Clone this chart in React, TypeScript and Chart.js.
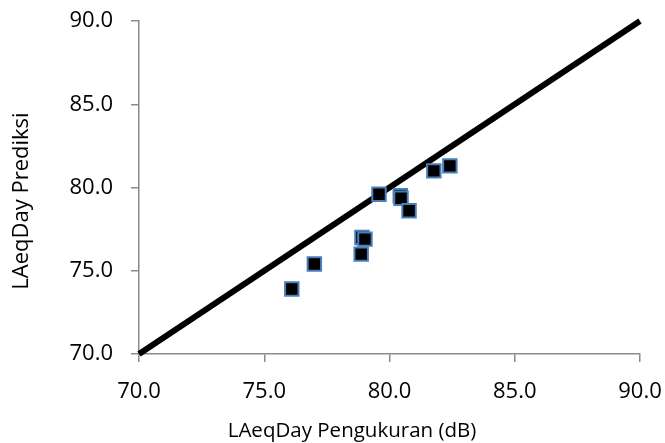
import React, { useEffect, useRef } from "react";
import { Chart, registerables } from "chart.js";

Chart.register(...registerables);

const measured: number[] = [76.1, 77.0, 78.87, 78.9, 79.02, 79.58, 80.43, 80.46, 80.78, 81.77, 82.41];
const predicted: number[] = [73.9, 75.4, 76.0, 77.0, 76.9, 79.6, 79.5, 79.35, 78.6, 81.0, 81.3];
const refLineX: number[] = [70, 90];
const refLineY: number[] = [70, 90];
const axisMin = 70;
const axisMax = 90;
const axisStep = 5;
const xTitle = "LAeqDay Pengukuran (dB)";
const yTitle = "LAeqDay Prediksi";

const FONT = "'Open Sans', sans-serif";

const titlePlugin = {
  id: "customTitles",
  afterDraw(chart: any) {
    const { ctx, chartArea } = chart;
    ctx.save();
    ctx.fillStyle = "#000";
    ctx.textAlign = "center";
    ctx.textBaseline = "middle";
    ctx.font = `20.5px ${FONT}`;
    ctx.fillText(xTitle, chartArea.left + 213, chartArea.bottom + 77);
    ctx.font = `22px ${FONT}`;
    ctx.translate(chartArea.left - 117, chartArea.top + 180);
    ctx.rotate(-Math.PI / 2);
    ctx.fillText(yTitle, 0, 0);
    ctx.restore();
  },
};

export default function App() {
  const ref = useRef<HTMLCanvasElement>(null);
  useEffect(() => {
    if (!ref.current) return;
    const axisColor = "#8a8a8a";
    const chart = new Chart(ref.current, {
      type: "scatter",
      data: {
        datasets: [
          {
            type: "scatter",
            label: "data",
            data: measured.map((x, i) => ({ x, y: predicted[i] })),
            pointStyle: "rect",
            pointRadius: 9.5,
            pointHoverRadius: 9.5,
            backgroundColor: "#000000",
            borderColor: "#4a7ebb",
            borderWidth: 2,
            order: 0,
          },
          {
            type: "line",
            label: "1:1",
            data: refLineX.map((x, i) => ({ x, y: refLineY[i] })),
            borderColor: "#000000",
            borderWidth: 6,
            pointRadius: 0,
            showLine: true,
            clip: false as any,
            order: 1,
          } as any,
        ],
      },
      options: {
        animation: false,
        responsive: false,
        layout: { padding: { left: 0, top: 21, right: 25, bottom: 0 } },
        plugins: { legend: { display: false }, tooltip: { enabled: false } },
        scales: {
          x: {
            type: "linear",
            min: axisMin,
            max: axisMax,
            afterFit: (s: any) => {
              s.height = 89;
              s.paddingLeft = 0;
              s.paddingRight = 0;
            },
            ticks: {
              stepSize: axisStep,
              color: "#000",
              font: { family: FONT, size: 22 },
              padding: 17,
              maxRotation: 0,
              callback: (v: any) => Number(v).toFixed(1),
            },
            grid: {
              drawOnChartArea: false,
              drawTicks: true,
              tickLength: 8,
              color: axisColor,
              lineWidth: 1.5,
            },
            border: { color: axisColor, width: 1.5 },
          },
          y: {
            type: "linear",
            min: axisMin,
            max: axisMax,
            afterFit: (s: any) => {
              s.width = 139;
              s.paddingTop = 0;
              s.paddingBottom = 0;
            },
            ticks: {
              stepSize: axisStep,
              color: "#000",
              font: { family: FONT, size: 22 },
              padding: 18,
              callback: (v: any) => Number(v).toFixed(1),
            },
            grid: {
              drawOnChartArea: false,
              drawTicks: true,
              tickLength: 8,
              color: axisColor,
              lineWidth: 1.5,
            },
            border: { color: axisColor, width: 1.5 },
          },
        },
      },
      plugins: [titlePlugin],
    } as any);
    return () => chart.destroy();
  }, []);
  return (
    <div style={{ position: "fixed", left: 0, top: 0, width: 665, height: 443, background: "#fff" }}>
      <canvas ref={ref} width={665} height={443} style={{ width: 665, height: 443, display: "block" }} />
    </div>
  );
}
